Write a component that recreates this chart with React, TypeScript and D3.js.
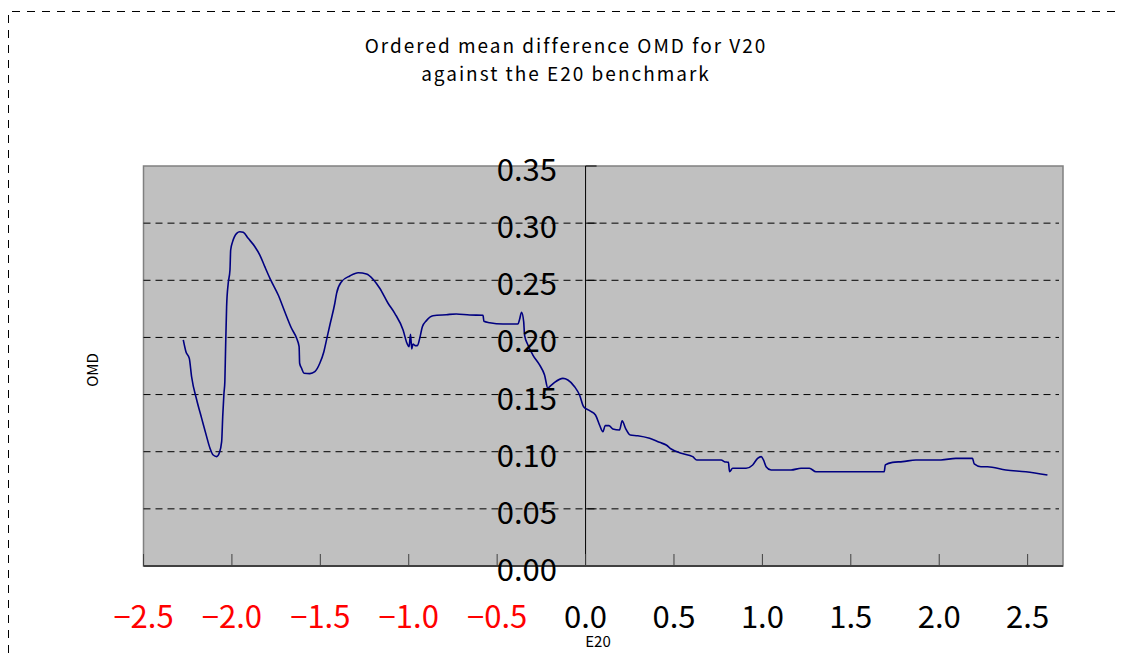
import React from "react";
import * as d3 from "d3";

// E20 values (x) and ordered mean difference (y)
const xValues = [
  -2.275, -2.26, -2.241, -2.228, -2.199, -2.171, -2.143, -2.124, -2.106, -2.086,
  -2.072, -2.058, -2.052, -2.045, -2.04, -2.036, -2.03, -2.021, -2.011, -2.007,
  -1.996, -1.973, -1.955, -1.936, -1.908, -1.87, -1.842, -1.814, -1.785, -1.738,
  -1.701, -1.663, -1.634, -1.62, -1.617, -1.606, -1.592, -1.559, -1.531, -1.503,
  -1.48, -1.465, -1.446, -1.418, -1.408, -1.38, -1.333, -1.286, -1.239, -1.202,
  -1.164, -1.117, -1.079, -1.032, -1.01, -0.998, -0.99, -0.983, -0.976, -0.964,
  -0.951, -0.938, -0.923, -0.9, -0.863, -0.787, -0.731, -0.655, -0.58, -0.575,
  -0.542, -0.467, -0.382, -0.373, -0.362, -0.35, -0.345, -0.326, -0.298, -0.26,
  -0.232, -0.213, -0.203, -0.175, -0.128, -0.1, -0.062, -0.034, -0.011, 0.023,
  0.056, 0.079, 0.098, 0.111, 0.132, 0.154, 0.192, 0.207, 0.226, 0.253,
  0.295, 0.362, 0.418, 0.456, 0.484, 0.541, 0.606, 0.629, 0.767, 0.785,
  0.808, 0.814, 0.832, 0.908, 0.945, 0.973, 0.993, 1.006, 1.021, 1.049,
  1.162, 1.219, 1.266, 1.303, 1.689, 1.695, 1.736, 1.793, 1.868, 2.01,
  2.094, 2.188, 2.198, 2.236, 2.273, 2.377, 2.49, 2.612,
];
const omdValues = [
  0.1978, 0.1875, 0.1817, 0.1656, 0.1453, 0.1292, 0.1132, 0.103, 0.0971, 0.0957,
  0.0986, 0.1088, 0.1307, 0.1511, 0.1613, 0.189, 0.2269, 0.2473, 0.259, 0.2765,
  0.2838, 0.2911, 0.2925, 0.292, 0.2867, 0.2794, 0.2721, 0.2619, 0.2517, 0.2371,
  0.2225, 0.208, 0.1992, 0.1919, 0.1774, 0.173, 0.1686, 0.1683, 0.17, 0.1774,
  0.1875, 0.1978, 0.2109, 0.2299, 0.2386, 0.2488, 0.2538, 0.2566, 0.2555, 0.2509,
  0.243, 0.2299, 0.2211, 0.2065, 0.1949, 0.1919, 0.2027, 0.1899, 0.1943, 0.1928,
  0.1928, 0.1992, 0.2094, 0.2147, 0.219, 0.2199, 0.2205, 0.2196, 0.2194, 0.2141,
  0.2129, 0.2118, 0.2118, 0.2159, 0.222, 0.2138, 0.2021, 0.1934, 0.1846, 0.1759,
  0.1671, 0.1555, 0.1569, 0.1607, 0.1642, 0.1628, 0.1569, 0.1496, 0.1394, 0.1359,
  0.1321, 0.1234, 0.1175, 0.1228, 0.1228, 0.1199, 0.119, 0.1271, 0.1205, 0.1146,
  0.114, 0.1117, 0.1082, 0.1059, 0.1024, 0.0986, 0.0957, 0.0928, 0.0928, 0.0913,
  0.0907, 0.0825, 0.0855, 0.0855, 0.0884, 0.0942, 0.0957, 0.0928, 0.0869, 0.084,
  0.084, 0.0855, 0.0855, 0.0825, 0.0825, 0.0884, 0.0907, 0.0913, 0.0928, 0.0928,
  0.0942, 0.0942, 0.0893, 0.0869, 0.0869, 0.084, 0.0825, 0.0796,
];
const xTicks = [-2.5, -2.0, -1.5, -1.0, -0.5, 0.0, 0.5, 1.0, 1.5, 2.0, 2.5];
const yTicks = [0, 0.05, 0.1, 0.15, 0.2, 0.25, 0.3, 0.35];
const titleLines = ["Ordered mean difference OMD for V20", "against the E20 benchmark"];

const W = 1122;
const H = 653;
const plot = { left: 143.5, right: 1063, top: 166, bottom: 566 };
const font = "'Noto Sans CJK JP', 'Noto Sans', sans-serif";

const App = () => {
  const x = d3.scaleLinear().domain([-2.5, 2.7]).range([plot.left, plot.right]);
  const y = d3.scaleLinear().domain([0, 0.35]).range([plot.bottom, plot.top]);

  const points = xValues.map((v, i) => [v, omdValues[i]] as [number, number]);
  const line = d3
    .line<[number, number]>()
    .x((d) => x(d[0]))
    .y((d) => y(d[1]))
    .curve(d3.curveMonotoneX);

  const fmtX = (v: number) => (v < 0 ? "\u2212" + Math.abs(v).toFixed(1) : v.toFixed(1));

  return (
    <svg
      width={W}
      height={H}
      style={{ position: "absolute", left: 0, top: 0, background: "#fff" }}
    >
      {/* chart area border */}
      <path
        d={`M8.5,${H} V11.5 H${W}`}
        fill="none"
        stroke="#000"
        strokeDasharray="8,7"
      />

      {titleLines.map((t, i) => (
        <text
          key={i}
          x={566}
          y={53 + i * 28}
          textAnchor="middle"
          fontFamily={font}
          fontSize={19}
          letterSpacing={2}
          fill="#000"
        >
          {t}
        </text>
      ))}

      {/* plot area */}
      <rect
        x={plot.left}
        y={plot.top}
        width={plot.right - plot.left}
        height={plot.bottom - plot.top}
        fill="#c0c0c0"
        stroke="#808080"
        strokeWidth={1.5}
      />

      {yTicks
        .filter((t) => t > 0 && t < 0.35)
        .map((t) => (
          <line
            key={t}
            x1={plot.left}
            x2={plot.right - 4}
            y1={y(t)}
            y2={y(t)}
            stroke="#000"
            strokeDasharray="7,5"
          />
        ))}

      {/* y axis at x = 0 */}
      <line x1={x(0)} x2={x(0)} y1={plot.top} y2={plot.bottom} stroke="#000" />
      {yTicks.map((t) => (
        <line key={t} x1={x(0)} x2={x(0) + 11} y1={y(t)} y2={y(t)} stroke="#000" />
      ))}

      {/* x axis at bottom */}
      <line
        x1={plot.left}
        x2={plot.right}
        y1={plot.bottom}
        y2={plot.bottom}
        stroke="#404040"
        strokeWidth={2}
      />
      {xTicks.map((t) => (
        <line
          key={t}
          x1={x(t)}
          x2={x(t)}
          y1={plot.bottom}
          y2={plot.bottom - 12}
          stroke="#404040"
        />
      ))}

      <path d={line(points) ?? ""} fill="none" stroke="#000080" strokeWidth={1.6} />

      {yTicks.map((t) => (
        <text
          key={t}
          x={557}
          y={y(t) + 15}
          textAnchor="end"
          fontFamily={font}
          fontSize={31}
          fill="#000"
        >
          {t.toFixed(2)}
        </text>
      ))}

      {xTicks.map((t) => (
        <text
          key={t}
          x={x(t)}
          y={628}
          textAnchor="middle"
          fontFamily={font}
          fontSize={31}
          fill={t < 0 ? "#ff0000" : "#000"}
        >
          {fmtX(t)}
        </text>
      ))}

      <text x={598} y={647} textAnchor="middle" fontFamily={font} fontSize={15} fill="#000">
        E20
      </text>
      <text
        transform="translate(98,370) rotate(-90)"
        textAnchor="middle"
        fontFamily={font}
        fontSize={15}
        fill="#000"
      >
        OMD
      </text>
    </svg>
  );
};

export default App;
